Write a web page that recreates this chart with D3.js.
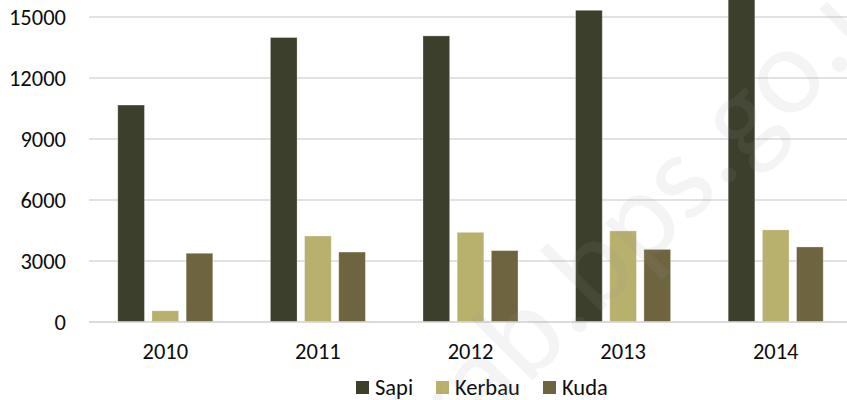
<!DOCTYPE html>
<html><head><meta charset="utf-8">
<script src="https://cdn.jsdelivr.net/npm/d3@7"></script>
<style>body{margin:0;background:#fff}svg{display:block}text{font-family:Carlito,Lato,"Open Sans",sans-serif}</style>
</head><body><svg id="c" width="847" height="400"></svg>
<script>
const years = ["2010","2011","2012","2013","2014"];
const seriesNames = ["Sapi","Kerbau","Kuda"];
const sapi   = [10670, 13990, 14070, 15330, 16100];
const kerbau = [  550,  4230,  4410,  4480,  4530];
const kuda   = [ 3380,  3440,  3510,  3570,  3690];
const yTicks = [0, 3000, 6000, 9000, 12000, 15000];
const colors = ["#3c3f2b", "#b8b06d", "#6e6540"];

const values = [sapi, kerbau, kuda];
const FS = 22.5;
const svg = d3.select("#c");
const x0 = d3.scaleBand().domain(years).range([89, 852]).padding(0);
const x1 = d3.scaleBand().domain(seriesNames).range([0, 95]).paddingInner(0.22).paddingOuter(0);
const y = d3.scaleLinear().domain([0, 15000]).range([322, 17]);

// gridlines
svg.append("g").selectAll("line").data(yTicks).join("line")
  .attr("x1", 89).attr("x2", 847)
  .attr("y1", d => y(d)).attr("y2", d => y(d))
  .attr("stroke", "#d9d9d9").attr("stroke-width", 1.5);

// y labels
const yAxis = d3.axisLeft(y).tickValues(yTicks).tickSize(0).tickPadding(0).tickFormat(d3.format("d"));
const ya = svg.append("g").attr("transform", "translate(66,0)").call(yAxis);
ya.select(".domain").remove();
ya.selectAll("text").attr("font-size", FS).attr("fill", "#0d0d0d").style("font-family", "Carlito, Lato, sans-serif");

// bars
const groups = svg.append("g").selectAll("g").data(years).join("g")
  .attr("transform", d => `translate(${x0(d) + x0.bandwidth()/2 - 47.5},0)`);
groups.selectAll("rect").data((d, i) => seriesNames.map((s, j) => ({s, j, v: values[j][i]})))
  .join("rect")
  .attr("x", d => x1(d.s))
  .attr("width", x1.bandwidth())
  .attr("y", d => y(d.v))
  .attr("height", d => y(0) - y(d.v))
  .attr("fill", d => colors[d.j])
  .attr("stroke", "rgba(255,255,255,0.35)").attr("stroke-width", 0.8);

// baseline
svg.append("line").attr("x1", 89).attr("x2", 847).attr("y1", y(0)).attr("y2", y(0))
  .attr("stroke", "#d9d9d9").attr("stroke-width", 1.5);

// x labels
const xAxis = d3.axisBottom(x0).tickSize(0).tickPadding(0);
const xa = svg.append("g").attr("transform", "translate(0,352)").call(xAxis);
xa.select(".domain").remove();
xa.selectAll("text").attr("font-size", FS).attr("fill", "#0d0d0d").attr("dy", "0.32em").style("font-family", "Carlito, Lato, sans-serif");

// legend
const legX = [356, 436, 543];
const leg = svg.append("g").selectAll("g").data(seriesNames).join("g")
  .attr("transform", (d, i) => `translate(${legX[i]},381)`);
leg.append("rect").attr("width", 13).attr("height", 13).attr("fill", (d, i) => colors[i]);
leg.append("text").attr("x", 19).attr("y", 6.5).attr("dy", "0.35em")
  .attr("font-size", FS).attr("fill", "#0d0d0d").text(d => d);

// watermark
const wm = svg.append("g").attr("transform", "translate(833,80) rotate(-45)")
  .attr("font-size", 125).attr("font-weight", 300).attr("fill", "#999").attr("fill-opacity", 0.11)
  .style("font-family", "Carlito, Lato, sans-serif");
wm.append("text").attr("text-anchor", "end").text("kab.bps.go");
wm.append("text").attr("text-anchor", "start").text(".id");
</script></body></html>
